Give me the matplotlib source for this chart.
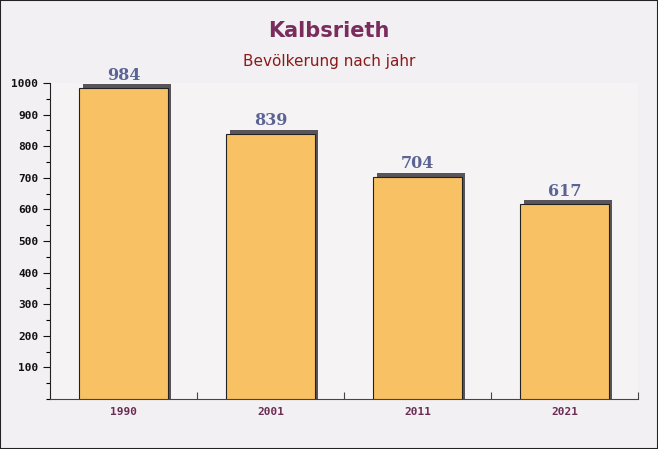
import matplotlib.pyplot as plt
from matplotlib.ticker import MultipleLocator, FixedLocator

# data
jahre = ["1990", "2001", "2011", "2021"]
einwohner = [984, 839, 704, 617]

fig = plt.figure(figsize=(6.58, 4.49), dpi=100)
fig.patch.set_facecolor("#f2f0f2")
ax = fig.add_axes([0.076, 0.1114, 0.8936, 0.7038])
ax.set_facecolor("#f8f6f7")
ax.patch.set_alpha(0.6)

x = list(range(len(jahre)))
# Schatten hinter den Balken
ax.bar([i + 0.025 for i in x], [v + 12 for v in einwohner], width=0.6,
       color="#58545a", zorder=2)
ax.bar(x, einwohner, width=0.6, color="#f7c164", edgecolor="#222222",
       linewidth=0.8, zorder=3)

for i, v in zip(x, einwohner):
    ax.text(i, v + 14, str(v), ha="center", va="bottom", fontsize=11.5,
            fontweight="bold", family="DejaVu Serif", color="#5a6394", zorder=4)

ax.set_xlim(-0.5, len(jahre) - 0.5)
ax.set_ylim(0, 1000)

ax.yaxis.set_major_locator(FixedLocator(range(100, 1001, 100)))
ax.yaxis.set_minor_locator(MultipleLocator(50))
ax.tick_params(axis="y", which="major", length=5, width=0.8, direction="out",
               labelsize=8, colors="#111111")
ax.tick_params(axis="y", which="minor", length=3, width=0.8, direction="out")
for lab in ax.get_yticklabels():
    lab.set_family("DejaVu Sans Mono")
    lab.set_fontweight("bold")

ax.set_xticks(x)
ax.set_xticklabels(jahre, family="DejaVu Sans Mono", fontweight="bold",
                   fontsize=8, color="#6b2d55")
ax.tick_params(axis="x", which="major", length=0, pad=6)
ax.xaxis.set_minor_locator(FixedLocator([i + 0.5 for i in x]))
ax.tick_params(axis="x", which="minor", length=5, width=0.8, direction="in",
               color="#444444")

ax.spines["top"].set_visible(False)
ax.spines["right"].set_visible(False)
ax.spines["left"].set_color("#222222")
ax.spines["bottom"].set_color("#6b3050")

fig.text(0.5, 0.93, "Kalbsrieth", ha="center", va="center", fontsize=15,
         fontweight="bold", color="#7a2d5c")
fig.text(0.5, 0.862, "Bevölkerung nach jahr", ha="center", va="center",
         fontsize=11, color="#8b1a1a")

# Rahmen um das Bild
fig.add_artist(plt.Rectangle((0, 0), 1, 1, transform=fig.transFigure,
                             fill=False, edgecolor="#222222", linewidth=1.5))

fig.savefig("out.png", dpi=100, facecolor=fig.get_facecolor())
